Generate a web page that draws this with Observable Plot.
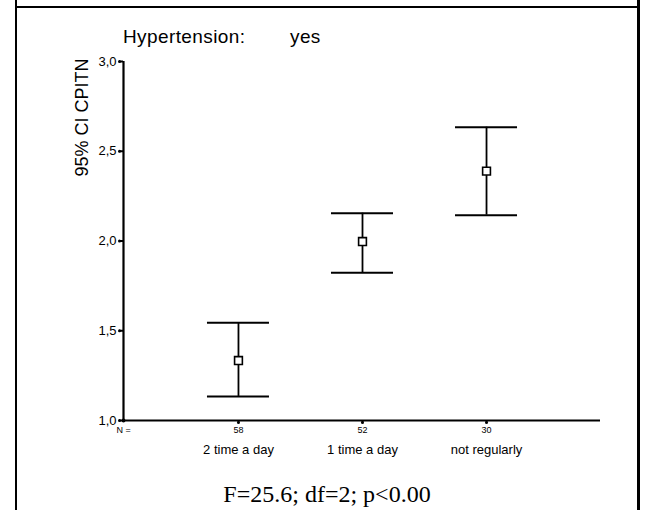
<!DOCTYPE html>
<html>
<head>
<meta charset="utf-8">
<script src="https://cdn.jsdelivr.net/npm/d3@7"></script>
<script src="https://cdn.jsdelivr.net/npm/@observablehq/plot@0.6"></script>
<style>
  html, body { margin: 0; padding: 0; background: #fff; }
  #wrap { position: relative; width: 645px; height: 510px; overflow: hidden; font-family: "Liberation Sans", Arial, sans-serif; }
  .vline { position: absolute; top: 0; height: 510px; background: #000; }
  .hline { position: absolute; background: #000; }
  #chart { position: absolute; left: 0; top: 0; }
  .title { position: absolute; font-size: 19px; letter-spacing: 0.4px; line-height: 22px; white-space: pre; }
  #caption { position: absolute; left: 16px; width: 622px; top: 480px; text-align: center; font-family: "Liberation Serif", "Times New Roman", serif; font-size: 24px; line-height: 28px; }
</style>
</head>
<body>
<div id="wrap">
  <div class="vline" style="left:15px;width:2px;"></div>
  <div class="vline" style="left:637px;width:3px;"></div>
  <div class="hline" style="left:15px;width:625px;top:6px;height:2px;"></div>
  <div id="chart"></div>
  <div class="title" style="left:123px;top:26px;">Hypertension:</div>
  <div class="title" style="left:290px;top:26px;">yes</div>
  <div id="caption">F=25.6; df=2; p&lt;0.00</div>
</div>
<script>
const categories = ["2 time a day", "1 time a day", "not regularly"];
const nValues = [58, 52, 30];
const means = [1.334, 1.997, 2.389];
const lower = [1.134, 1.823, 2.144];
const upper = [1.544, 2.155, 2.634];
const yTicks = [1.0, 1.5, 2.0, 2.5, 3.0];
const yLabel = "95% CI CPITN";

const rows = categories.map((c, i) => ({pos: i + 1, cat: c, n: nValues[i], mean: means[i], lo: lower[i], hi: upper[i]}));
const x0 = 0.073, x1 = 3.919;
const capHalf = 0.25;

const chart = Plot.plot({
  width: 645,
  height: 470,
  marginLeft: 123,
  marginRight: 45,
  marginTop: 61,
  marginBottom: 50,
  style: {fontFamily: "Liberation Sans, Arial, sans-serif", color: "#000", background: "transparent"},
  x: {type: "linear", domain: [x0, x1]},
  y: {domain: [1, 3]},
  marks: [
    Plot.axisY({ticks: yTicks, tickFormat: d => d.toFixed(1).replace(".", ","), tickSize: 4, tickPadding: 3, fontSize: 13, strokeWidth: 2, label: null}),
    Plot.dot(yTicks, {x: x0, y: d => d, dx: -4, r: 1.5, fill: "#000", stroke: null}),
    Plot.axisX({ticks: [1, 2, 3], tickFormat: d => String(nValues[d - 1]), tickSize: 2, tickPadding: 4, fontSize: 9, strokeWidth: 2, label: null}),
    Plot.dot([1, 2, 3], {x: d => d, y: 1, dy: 2, r: 1.5, fill: "#000", stroke: null}),
    Plot.axisX({ticks: [1, 2, 3], tickFormat: d => categories[d - 1], tickSize: 0, tickPadding: 24, fontSize: 13, label: null}),
    Plot.text(["N ="], {x: x0, frameAnchor: "bottom", dy: 12, text: d => d, fontSize: 9}),
    Plot.dot([0], {x: x0, y: 1, r: 2, fill: "#000", stroke: null}),
    Plot.ruleX([0], {x: x0, y1: 1, y2: 3, strokeWidth: 2.2}),
    Plot.ruleY([0], {y: 1, x1: x0, x2: x1, strokeWidth: 2.2}),
    Plot.text([yLabel], {frameAnchor: "top-left", dx: -48, dy: -3, rotate: -90, textAnchor: "end", fontSize: 18, text: d => d}),
    Plot.ruleX(rows, {x: "pos", y1: "lo", y2: "hi", strokeWidth: 1.8}),
    Plot.ruleY(rows, {y: "hi", x1: d => d.pos - capHalf, x2: d => d.pos + capHalf, strokeWidth: 2}),
    Plot.ruleY(rows, {y: "lo", x1: d => d.pos - capHalf, x2: d => d.pos + capHalf, strokeWidth: 2}),
    Plot.dot(rows, {x: "pos", y: "mean", symbol: "square", r: 4.4, fill: "#fff", stroke: "#000", strokeWidth: 1.6})
  ]
});
document.getElementById("chart").appendChild(chart);
</script>
</body>
</html>
